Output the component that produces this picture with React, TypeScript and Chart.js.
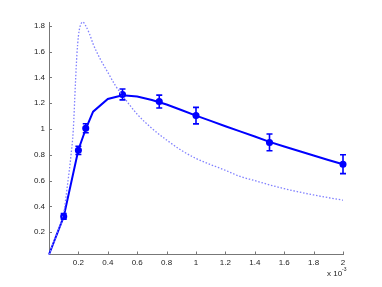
import { useEffect, useRef } from 'react';
import { Chart, registerables } from 'chart.js';

Chart.register(...registerables);

// model fit (solid line), x in units of 1e-3
const fitX = [0, 0.1, 0.2, 0.25, 0.3, 0.4, 0.5, 0.6, 0.7, 0.8, 0.9, 1.0, 1.1, 1.2, 1.3, 1.4, 1.5, 1.6, 1.7, 1.8, 1.9, 2.0];
const fitY = [0.027, 0.32, 0.84, 1.0, 1.135, 1.233, 1.262, 1.252, 1.225, 1.19, 1.148, 1.104, 1.063, 1.022, 0.982, 0.942, 0.9, 0.864, 0.83, 0.795, 0.76, 0.727];

// dotted curve
const dotX = [0, 0.05, 0.1, 0.125, 0.15, 0.165, 0.18, 0.19, 0.2, 0.21, 0.23, 0.25, 0.275, 0.3, 0.35, 0.4, 0.45, 0.5, 0.6, 0.7, 0.8, 0.9, 1.0, 1.1, 1.2, 1.3, 1.4, 1.5, 1.6, 1.7, 1.8, 1.9, 2.0];
const dotY = [0.027, 0.18, 0.35, 0.56, 0.8, 0.99, 1.36, 1.58, 1.72, 1.79, 1.83, 1.8, 1.74, 1.66, 1.54, 1.44, 1.34, 1.26, 1.115, 1.005, 0.915, 0.835, 0.772, 0.724, 0.68, 0.632, 0.6, 0.567, 0.538, 0.512, 0.489, 0.468, 0.448];

// measurements with error bars
const measX = [0.1, 0.2, 0.25, 0.5, 0.75, 1.0, 1.5, 2.0];
const measY = [0.322, 0.835, 1.006, 1.268, 1.213, 1.104, 0.896, 0.727];
const measErr = [0.022, 0.032, 0.035, 0.042, 0.05, 0.064, 0.065, 0.073];

const xTicks = [0.2, 0.4, 0.6, 0.8, 1, 1.2, 1.4, 1.6, 1.8, 2];
const yTicks = [0.2, 0.4, 0.6, 0.8, 1, 1.2, 1.4, 1.6, 1.8];

const FONT = '"Liberation Sans", Arial, sans-serif';
const AXIS = '#777777';
const TEXT = '#222222';
const BLUE = '#0000ff';

const overlay = {
  id: 'overlay',
  afterDatasetsDraw(chart: any) {
    const { ctx, scales, chartArea } = chart;
    const x = scales.x;
    const y = scales.y;
    ctx.save();
    // error bars
    ctx.strokeStyle = BLUE;
    ctx.lineWidth = 1.6;
    ctx.beginPath();
    measX.forEach((xv, i) => {
      const px = x.getPixelForValue(xv);
      const pt = y.getPixelForValue(measY[i] + measErr[i]);
      const pb = y.getPixelForValue(measY[i] - measErr[i]);
      ctx.moveTo(px, pt);
      ctx.lineTo(px, pb);
      ctx.moveTo(px - 3, pt);
      ctx.lineTo(px + 3, pt);
      ctx.moveTo(px - 3, pb);
      ctx.lineTo(px + 3, pb);
    });
    ctx.stroke();
    // inward tick marks
    ctx.strokeStyle = AXIS;
    ctx.lineWidth = 1;
    ctx.beginPath();
    xTicks.forEach((v) => {
      const px = Math.round(x.getPixelForValue(v)) + 0.5;
      ctx.moveTo(px, chartArea.bottom);
      ctx.lineTo(px, chartArea.bottom - 3);
    });
    yTicks.forEach((v) => {
      const py = Math.round(y.getPixelForValue(v)) + 0.5;
      ctx.moveTo(chartArea.left, py);
      ctx.lineTo(chartArea.left + 3, py);
    });
    ctx.stroke();
    // exponent label
    ctx.fillStyle = TEXT;
    ctx.textAlign = 'left';
    ctx.textBaseline = 'alphabetic';
    ctx.font = '8px ' + FONT;
    ctx.fillText('x 10', 327, 276);
    ctx.font = '5px ' + FONT;
    ctx.fillText('-3', 342, 271);
    ctx.restore();
  },
};

const fmt = (v: any) => String(Math.round(Number(v) * 10) / 10);

export default function App() {
  const ref = useRef<HTMLCanvasElement | null>(null);
  useEffect(() => {
    if (!ref.current) return;
    const chart = new Chart(ref.current, {
      type: 'line',
      data: {
        datasets: [
          {
            label: 'model',
            data: dotX.map((v, i) => ({ x: v, y: dotY[i] })),
            borderColor: '#8080ff',
            borderWidth: 1.3,
            borderDash: [1.5, 1.8],
            pointRadius: 0,
            fill: false,
            cubicInterpolationMode: 'monotone',
            clip: false as any,
          },
          {
            label: 'fit',
            data: fitX.map((v, i) => ({ x: v, y: fitY[i] })),
            borderColor: BLUE,
            borderWidth: 2,
            pointRadius: 0,
            fill: false,
            tension: 0,
            clip: false as any,
          },
          {
            label: 'data',
            data: measX.map((v, i) => ({ x: v, y: measY[i] })),
            showLine: false,
            borderColor: BLUE,
            backgroundColor: BLUE,
            pointRadius: 2.8,
            pointBorderWidth: 1.5,
            pointStyle: 'circle',
            clip: false as any,
          },
        ],
      },
      options: {
        animation: false,
        responsive: false,
        events: [],
        layout: { padding: { left: 0, top: 22, right: 39, bottom: 12.5 } },
        plugins: { legend: { display: false }, tooltip: { enabled: false } },
        scales: {
          x: {
            type: 'linear',
            min: 0,
            max: 2,
            grid: { display: false, drawTicks: false },
            border: { display: true, color: AXIS, width: 1 },
            ticks: { font: { family: FONT, size: 8 }, color: TEXT, padding: 3, maxRotation: 0, autoSkip: false, callback: fmt },
            afterBuildTicks: (s: any) => {
              s.ticks = xTicks.map((v) => ({ value: v }));
            },
            afterFit: (s: any) => {
              s.height = 20;
            },
          },
          y: {
            type: 'linear',
            min: 0.027,
            max: 1.83,
            grid: { display: false, drawTicks: false },
            border: { display: true, color: AXIS, width: 1 },
            ticks: { font: { family: FONT, size: 8 }, color: TEXT, padding: 4, autoSkip: false, callback: fmt },
            afterBuildTicks: (s: any) => {
              s.ticks = yTicks.map((v) => ({ value: v }));
            },
            afterFit: (s: any) => {
              s.width = 49;
            },
          },
        },
      },
      plugins: [overlay],
    });
    return () => chart.destroy();
  }, []);
  return (
    <div style={{ position: 'fixed', left: 0, top: 0, width: 382, height: 287, background: '#fff' }}>
      <canvas ref={ref} width={382} height={287} style={{ display: 'block' }} />
    </div>
  );
}
